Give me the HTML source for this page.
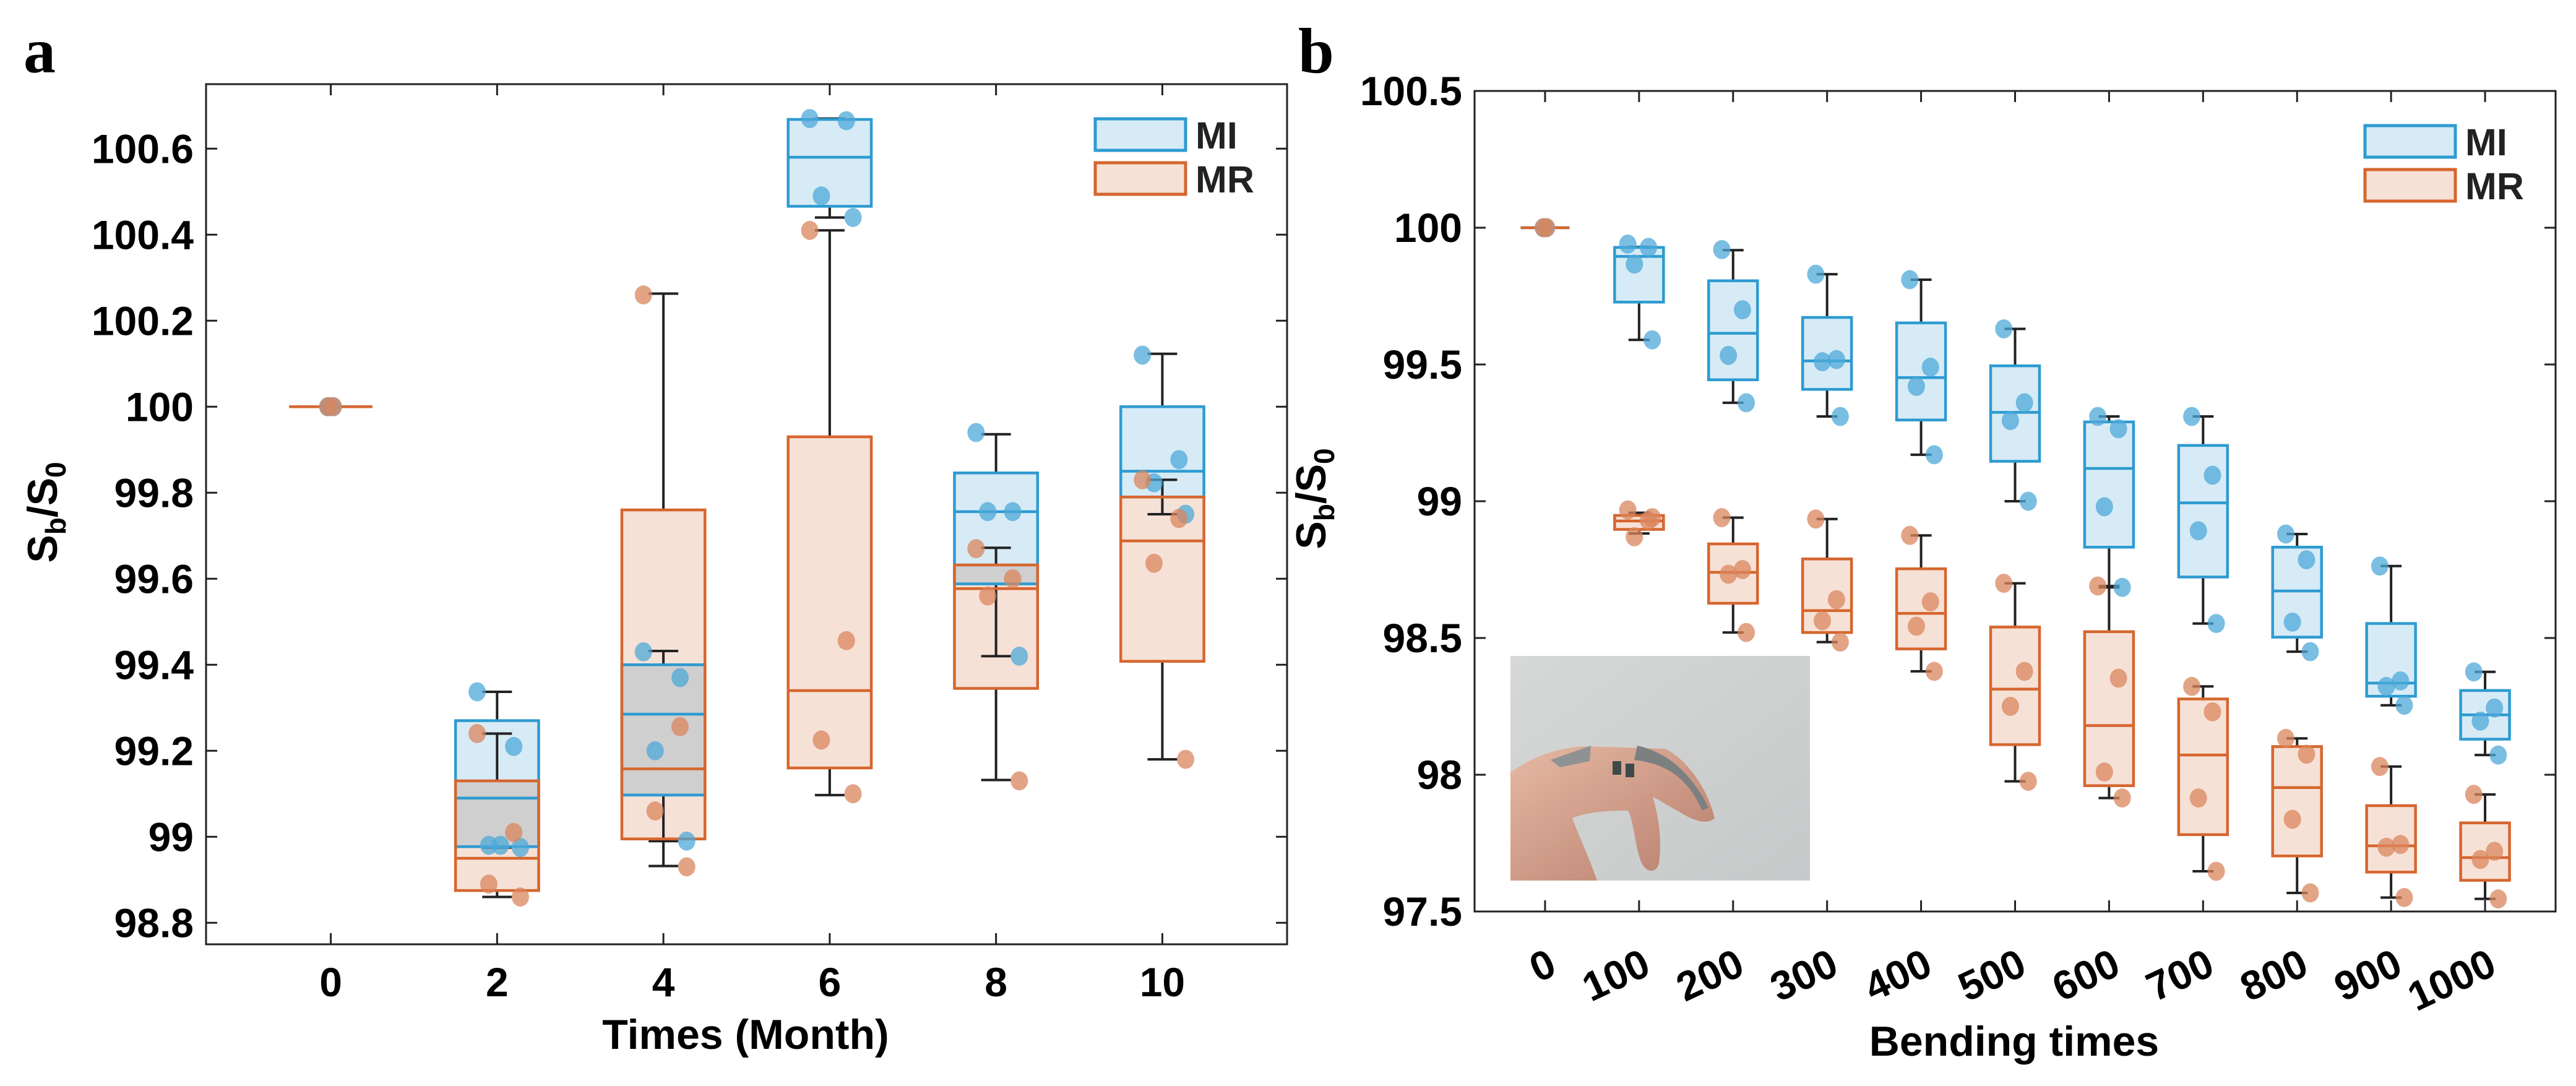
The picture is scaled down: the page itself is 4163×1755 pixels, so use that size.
<!DOCTYPE html>
<html><head><meta charset="utf-8"><style>
html,body{margin:0;padding:0;background:#fff;}
svg{display:block;font-family:"Liberation Sans",Arial,sans-serif;}
.fill{mix-blend-mode:multiply;}
</style></head>
<body>
<svg id="fig" width="4163" height="1755" viewBox="0 0 4163 1755" xmlns="http://www.w3.org/2000/svg">
<rect width="4163" height="1755" fill="#fff"/>
<text x="38" y="117" font-family="Liberation Serif,serif" font-weight="bold" font-size="104">a</text>
<text x="2098" y="117" font-family="Liberation Serif,serif" font-weight="bold" font-size="104">b</text>
<g id="chartA"></g>
<g id="chartB"></g>
<g transform="translate(2441,1060)">
  <defs><linearGradient id="wall" x1="0" y1="0" x2="1" y2="1"><stop offset="0" stop-color="#d6d8d7"/><stop offset="1" stop-color="#c6c9c9"/></linearGradient>
  <linearGradient id="skin" x1="0" y1="0" x2="1" y2="1"><stop offset="0" stop-color="#e6b9a3"/><stop offset="1" stop-color="#b77e6d"/></linearGradient></defs>
  <rect width="484" height="363" fill="url(#wall)"/>
  <path d="M0,188 C40,160 80,148 120,146 L250,150 C290,170 320,220 330,262 C320,272 300,270 270,250 C250,240 240,232 230,228 C240,260 245,300 240,335 C236,352 218,352 210,330 C200,300 200,270 190,250 C170,250 130,250 100,262 C110,290 125,320 140,363 L0,363 Z" fill="url(#skin)"/>
  <path d="M65,168 L130,145 L128,170 L80,180 Z" fill="#8f9293"/>
  <path d="M205,145 C250,155 290,185 320,245 L310,250 C290,205 260,175 200,168 Z" fill="#7c8080"/>
  <rect x="165" y="170" width="14" height="22" fill="#3e4a4a"/><rect x="186" y="174" width="14" height="22" fill="#3e4a4a"/>
</g>
<script>
// ---------- Chart A data ----------
const catsA = [0, 2, 4, 6, 8, 10];
const tickLabelsAY = ['98.8','99','99.2','99.4','99.6','99.8','100','100.2','100.4','100.6'];
const miA_q1  = [100, 98.977, 99.097, 100.466, 99.588, 99.79];
const miA_med = [100, 99.09, 99.285, 100.58, 99.756, 99.85];
const miA_q3  = [100, 99.27, 99.40, 100.668, 99.846, 100.0];
const miA_lo  = [100, 98.975, 98.99, 100.44, 99.42, 99.75];
const miA_hi  = [100, 99.337, 99.432, 100.67, 99.936, 100.123];
const miA_pts = [[100,100,100],[99.337,99.21,98.98,98.975,98.98],[99.43,99.37,99.20,98.99],[100.67,100.665,100.49,100.44],[99.94,99.756,99.756,99.42],[100.12,99.877,99.823,99.75]];
const mrA_q1  = [100, 98.875, 98.995, 99.16, 99.345, 99.408];
const mrA_med = [100, 98.95, 99.158, 99.34, 99.577, 99.688];
const mrA_q3  = [100, 99.13, 99.76, 99.93, 99.632, 99.79];
const mrA_lo  = [100, 98.86, 98.932, 99.097, 99.132, 99.18];
const mrA_hi  = [100, 99.24, 100.263, 100.41, 99.672, 99.83];
const mrA_pts = [[100,100],[99.24,99.01,98.89,98.86],[100.26,99.256,99.06,98.93],[100.41,99.456,99.225,99.10],[99.67,99.60,99.56,99.13],[99.83,99.74,99.636,99.18]];
// ---------- Chart B data ----------
const catsB = [0,100,200,300,400,500,600,700,800,900,1000];
const tickLabelsBY = ['97.5','98','98.5','99','99.5','100','100.5'];
const miB_q1  = [100, 99.728, 99.444, 99.409, 99.297, 99.146, 98.832, 98.723, 98.503, 98.287, 98.13];
const miB_med = [100, 99.895, 99.614, 99.513, 99.452, 99.325, 99.12, 98.994, 98.672, 98.335, 98.219];
const miB_q3  = [100, 99.928, 99.806, 99.672, 99.652, 99.495, 99.29, 99.204, 98.832, 98.553, 98.308];
const miB_lo  = [100, 99.59, 99.36, 99.31, 99.17, 99.0, 98.685, 98.553, 98.45, 98.254, 98.072];
const miB_hi  = [100, 99.93, 99.918, 99.83, 99.81, 99.63, 99.31, 99.31, 98.88, 98.763, 98.376];
const miB_pts = [[100,100],[99.94,99.928,99.867,99.59],[99.92,99.70,99.533,99.36],[99.83,99.518,99.51,99.31],[99.81,99.49,99.42,99.17],[99.63,99.36,99.295,99.0],[99.31,99.265,98.98,98.685],[99.31,99.095,98.892,98.553],[98.88,98.786,98.558,98.45],[98.763,98.343,98.323,98.254],[98.376,98.244,98.196,98.072]];
const mrB_q1  = [100, 98.897, 98.627, 98.52, 98.46, 98.11, 97.96, 97.781, 97.703, 97.644, 97.614];
const mrB_med = [100, 98.928, 98.74, 98.6, 98.59, 98.313, 98.18, 98.072, 97.953, 97.74, 97.697];
const mrB_q3  = [100, 98.948, 98.844, 98.789, 98.753, 98.54, 98.523, 98.277, 98.103, 97.887, 97.824];
const mrB_lo  = [100, 98.882, 98.52, 98.485, 98.378, 97.976, 97.915, 97.647, 97.568, 97.551, 97.546];
const mrB_hi  = [100, 98.958, 98.94, 98.935, 98.875, 98.70, 98.69, 98.323, 98.133, 98.03, 97.928];
const mrB_pts = [[100,100],[98.968,98.93,98.87,98.94],[98.94,98.75,98.733,98.52],[98.935,98.64,98.563,98.485],[98.875,98.632,98.543,98.378],[98.7,98.378,98.25,97.976],[98.69,98.353,98.01,97.915],[98.323,98.23,97.915,97.647],[98.133,98.075,97.837,97.568],[98.03,97.745,97.735,97.551],[97.928,97.72,97.69,97.546]];

const NS='http://www.w3.org/2000/svg';
const BLUE='#2e9bd1', BLUEF='#d7ebf6', ORG='#d6662f', ORGF='#f6e1d7';
const jit=[-0.12,0.1,-0.05,0.14,0.02];
function mk(parent,tag,attrs){const e=document.createElementNS(NS,tag);for(const k in attrs)e.setAttribute(k,attrs[k]);parent.appendChild(e);return e;}

function drawChart(g,cfg){
  const X=v=>cfg.L+(v-cfg.xmin)/(cfg.xmax-cfg.xmin)*(cfg.R-cfg.L);
  const Y=v=>cfg.B-(v-cfg.ymin)/(cfg.ymax-cfg.ymin)*(cfg.B-cfg.T);
  const unit=X(cfg.step)-X(0);
  const fr=mk(g,'rect',{x:cfg.L,y:cfg.T,width:cfg.R-cfg.L,height:cfg.B-cfg.T,fill:'none',stroke:'#222','stroke-width':3});
  
  
  cfg.yLabels.forEach((lab)=>{const v=parseFloat(lab);const y=Y(v);
    mk(g,'line',{x1:cfg.L,x2:cfg.L+18,y1:y,y2:y,stroke:'#222','stroke-width':3});
    mk(g,'line',{x1:cfg.R,x2:cfg.R-18,y1:y,y2:y,stroke:'#222','stroke-width':3});
    const t=mk(g,'text',{x:cfg.L-20,y:y+23,'text-anchor':'end','font-size':66,'font-weight':'bold',fill:'#000'});
    t.textContent=lab;
    
    
  });
  cfg.cats.forEach((c)=>{const x=X(c);
    mk(g,'line',{x1:x,x2:x,y1:cfg.B,y2:cfg.B-18,stroke:'#222','stroke-width':3});
    mk(g,'line',{x1:x,x2:x,y1:cfg.T,y2:cfg.T+18,stroke:'#222','stroke-width':3});
    let t;
    if(cfg.rot){t=mk(g,'text',{x:x+22,y:cfg.B+100,'text-anchor':'end','font-size':66,'font-weight':'bold',transform:`rotate(-25 ${x+22} ${cfg.B+100})`});}
    else{t=mk(g,'text',{x:x,y:cfg.B+84,'text-anchor':'middle','font-size':66,'font-weight':'bold'});}
    t.textContent=String(c);
    
    
  });
  const series=[cfg.mi,cfg.mr];
  const hw=unit*cfg.bw;
  series.forEach((s)=>{cfg.cats.forEach((c,i)=>{if(i===0)return;
    const r=mk(g,'rect',{x:X(c)-hw,y:Y(s.q3[i]),width:2*hw,height:Y(s.q1[i])-Y(s.q3[i]),fill:s.fill,class:'fill'});
    
    
  });});
  series.forEach((s)=>{cfg.cats.forEach((c,i)=>{if(i===0)return;const x=X(c);
    mk(g,'line',{x1:x,x2:x,y1:Y(s.hi[i]),y2:Y(s.q3[i]),stroke:'#222','stroke-width':4});
    mk(g,'line',{x1:x,x2:x,y1:Y(s.q1[i]),y2:Y(s.lo[i]),stroke:'#222','stroke-width':4});
    mk(g,'line',{x1:x-cfg.cap,x2:x+cfg.cap,y1:Y(s.hi[i]),y2:Y(s.hi[i]),stroke:'#222','stroke-width':4});
    mk(g,'line',{x1:x-cfg.cap,x2:x+cfg.cap,y1:Y(s.lo[i]),y2:Y(s.lo[i]),stroke:'#222','stroke-width':4});
  });});
  series.forEach((s)=>{cfg.cats.forEach((c,i)=>{const x=X(c);
    if(i>0){const r=mk(g,'rect',{x:x-hw,y:Y(s.q3[i]),width:2*hw,height:Y(s.q1[i])-Y(s.q3[i]),fill:'none',stroke:s.stroke,'stroke-width':4.5});
      
      }
    mk(g,'line',{x1:x-hw,x2:x+hw,y1:Y(s.med[i]),y2:Y(s.med[i]),stroke:s.stroke,'stroke-width':4.5});
  });});
  series.forEach((s)=>{cfg.cats.forEach((c,i)=>{s.pts[i].forEach((v,k)=>{
    const p=mk(g,'ellipse',{cx:X(c)+jit[k%jit.length]*unit*(i===0?0.15:1),cy:Y(v),rx:cfg.pr,ry:cfg.pr*1.1,fill:s.dot,'fill-opacity':0.75});
    
    
  });});});
  [[cfg.mi,'MI',0],[cfg.mr,'MR',1]].forEach(([s,lab,j])=>{
    const y=cfg.legY+j*71;
    const r=mk(g,'rect',{x:cfg.legX,y:y,width:146,height:51,fill:s.fill,stroke:s.stroke,'stroke-width':5});
    
    
    const t=mk(g,'text',{x:cfg.legX+162,y:y+48,'font-size':61,'font-weight':'bold',fill:'#222'});
    t.textContent=lab;
    
    
  });
  const xt=mk(g,'text',{x:cfg.xtX,y:cfg.xtY,'text-anchor':'middle','font-size':68,'font-weight':'bold'});
  xt.textContent=cfg.xTitle;
  
  
  const yt=mk(g,'text',{x:0,y:0,'text-anchor':'middle','font-size':68,'font-weight':'bold',transform:`translate(${cfg.ytX},${cfg.ytY}) rotate(-90)`});
  
  
  const parts=[['S',68,0],['b',46,14],['/S',68,-14],['0',46,14]];
  parts.forEach(([txt,fs,dy])=>{const ts=mk(yt,'tspan',{'font-size':fs,dy:dy});ts.textContent=txt;});
}
drawChart(document.getElementById('chartA'),{L:333,R:2080,T:136,B:1526,xmin:-1.5,xmax:11.5,ymin:98.75,ymax:100.75,step:2,bw:0.25,cap:24,pr:14,
  cats:catsA,yLabels:tickLabelsAY,rot:false,legX:1770,legY:192,xTitle:'Times (Month)',xtX:1205,xtY:1695,ytX:92,ytY:828,
  mi:{name:'mi',q1:miA_q1,med:miA_med,q3:miA_q3,lo:miA_lo,hi:miA_hi,pts:miA_pts,fill:BLUEF,stroke:BLUE,dot:'#4ea8d8'},
  mr:{name:'mr',q1:mrA_q1,med:mrA_med,q3:mrA_q3,lo:mrA_lo,hi:mrA_hi,pts:mrA_pts,fill:ORGF,stroke:ORG,dot:'#d9865e'}});
drawChart(document.getElementById('chartB'),{L:2383,R:4130,T:147,B:1473,xmin:-75,xmax:1075,ymin:97.5,ymax:100.5,step:100,bw:0.26,cap:17,pr:14,
  cats:catsB,yLabels:tickLabelsBY,rot:true,legX:3822,legY:203,xTitle:'Bending times',xtX:3255,xtY:1706,ytX:2142,ytY:806,
  mi:{name:'mi',q1:miB_q1,med:miB_med,q3:miB_q3,lo:miB_lo,hi:miB_hi,pts:miB_pts,fill:BLUEF,stroke:BLUE,dot:'#4ea8d8'},
  mr:{name:'mr',q1:mrB_q1,med:mrB_med,q3:mrB_q3,lo:mrB_lo,hi:mrB_hi,pts:mrB_pts,fill:ORGF,stroke:ORG,dot:'#d9865e'}});
</script>
</svg>
</body></html>
